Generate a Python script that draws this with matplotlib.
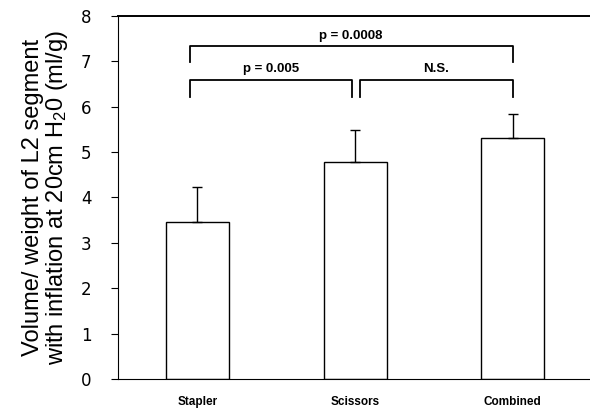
#!/usr/bin/env python3
"""plot.py"""

import matplotlib

matplotlib.use("Agg")
import matplotlib.pyplot as plt
import numpy as np

categories = ["Stapler", "Scissors", "Combined"]
means = [3.46, 4.78, 5.31]
errors = [0.77, 0.70, 0.53]

# significance brackets: (left x, right x, bar height, leg bottom, label)
brackets = [
    (-0.05, 0.98, 6.59, 6.21, "p = 0.005"),
    (1.03, 2.0, 6.59, 6.21, "N.S."),
    (-0.05, 2.0, 7.33, 6.98, "p = 0.0008"),
]


def plot(ax: plt.Axes):
    x = np.arange(len(categories))
    ax.bar(x, means, width=0.40, color="white", edgecolor="black", linewidth=1.0)
    ax.errorbar(x, means, yerr=[np.zeros(len(means)), errors], fmt="none",
                ecolor="black", elinewidth=1.0, capsize=3.5, capthick=1.0)

    for x0, x1, top, leg, label in brackets:
        ax.plot([x0, x0, x1, x1], [leg, top, top, leg], color="black", lw=1.3)
        ax.text((x0 + x1) / 2, top + 0.1, label, ha="center", va="bottom",
                fontsize=9.5, family="Liberation Sans", fontweight="bold")

    ax.set_xlim(-0.504, 2.49)
    ax.set_ylim(0, 8)
    ax.set_xticks(x)
    ax.set_xticklabels(categories, fontsize=8.5, family="Liberation Sans",
                       fontweight="bold")
    ax.tick_params(axis="x", length=0, pad=12)
    ax.set_yticks(range(9))
    ax.tick_params(axis="y", length=5, labelsize=12, pad=14)
    for lbl in ax.get_yticklabels():
        lbl.set_family("DejaVu Sans")

    ax.set_ylabel("Volume/ weight of L2 segment\nwith inflation at 20cm H$_2$0 (ml/g)",
                  fontsize=17, family="Liberation Sans", labelpad=8,
                  linespacing=1.0)

    ax.spines["right"].set_visible(False)
    ax.spines["top"].set_linewidth(1.4)


def main():
    plt.rcParams["mathtext.fontset"] = "custom"
    plt.rcParams["mathtext.rm"] = "Liberation Sans"
    plt.rcParams["mathtext.it"] = "Liberation Sans:italic"
    fig = plt.figure(figsize=(5.9, 4.11), dpi=100)
    ax = fig.add_axes([0.2, 0.078, 0.8, 0.883])
    plot(ax)
    fig.savefig("out.png", dpi=100)


if __name__ == "__main__":
    main()
